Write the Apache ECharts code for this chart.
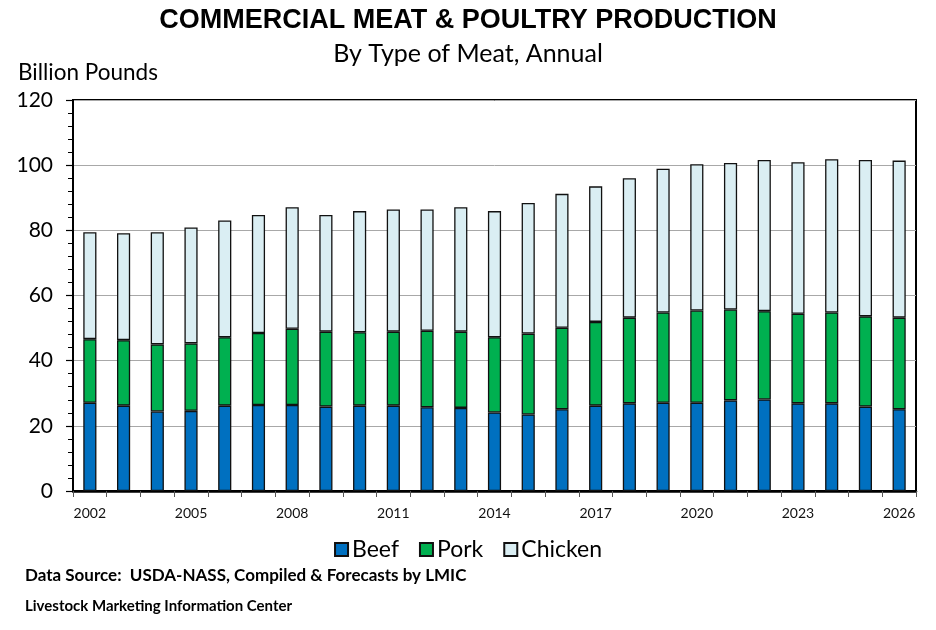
<!DOCTYPE html>
<html>
<head>
<meta charset="utf-8">
<script src="https://cdn.jsdelivr.net/npm/echarts@6/dist/echarts.min.js"></script>
<style>html,body{margin:0;padding:0;background:#fff}#c{width:936px;height:630px}</style>
</head>
<body>
<div id="c"></div>
<script>
const years = ['2002','2003','2004','2005','2006','2007','2008','2009','2010','2011','2012','2013','2014','2015','2016','2017','2018','2019','2020','2021','2022','2023','2024','2025','2026'];
const beef = [27.1,26.2,24.4,24.6,26.2,26.4,26.4,25.9,26.2,26.2,25.7,25.5,24.1,23.5,25.1,26.2,26.9,27.1,27.1,27.8,28.1,26.9,26.9,25.9,25.1];
const pork = [19.5,20.1,20.6,20.7,21.0,22.1,23.4,23.0,22.5,22.7,23.5,23.4,23.1,24.8,25.0,25.7,26.3,27.7,28.3,27.9,27.1,27.5,27.9,27.7,28.1];
const chicken = [32.8,32.8,34.4,35.6,35.8,36.2,37.3,35.8,37.2,37.5,37.2,38.2,38.7,40.1,41.1,41.6,42.8,44.1,44.9,45.0,46.4,46.5,47.0,48.0,48.2];
const yTicks = [0,20,40,60,80,100,120];

const chart = echarts.init(document.getElementById('c'), null, {renderer:'canvas'});
const barStyle = (c) => ({color:c, borderColor:'#111', borderWidth:1.3});
chart.setOption({
  animation:false,
  backgroundColor:'#fff',
  title:[
    {text:'COMMERCIAL MEAT & POULTRY PRODUCTION', left:'center', top:7, padding:0, textStyle:{fontFamily:'Liberation Sans, Arial', fontWeight:'bold', fontSize:27, color:'#000'}},
    {text:'By Type of Meat, Annual', left:'center', top:41, padding:0, textStyle:{fontFamily:'Lato, Open Sans', fontWeight:'normal', fontSize:25, color:'#000'}},
    {text:'Billion Pounds', left:18, top:61, padding:0, textStyle:{fontFamily:'Lato, Open Sans', fontWeight:'normal', fontSize:22.5, color:'#000'}},
    {text:'Data Source:  USDA-NASS, Compiled & Forecasts by LMIC', left:25, top:567, padding:0, textStyle:{fontFamily:'Lato, Open Sans', fontWeight:'bold', fontSize:17, color:'#000'}},
    {text:'Livestock Marketing Information Center', left:25, top:599, padding:0, textStyle:{fontFamily:'Lato, Open Sans', fontWeight:'bold', fontSize:15, color:'#000'}}
  ],
  legend:{
    top:533, left:'center', itemWidth:13, itemHeight:13, itemGap:20,
    icon:'rect',
    textStyle:{fontFamily:'Lato, Open Sans', fontSize:23, color:'#000', padding:[0,0,0,-1]},
    data:['Beef','Pork','Chicken']
  },
  grid:{left:73, right:20, top:100, bottom:139, show:true, borderColor:'#000', borderWidth:2, backgroundColor:'transparent'},
  xAxis:{
    type:'category', data:years, boundaryGap:true,
    axisLine:{lineStyle:{color:'#000', width:2.5}},
    axisTick:{show:true, interval:0, alignWithLabel:false, length:6, lineStyle:{color:'#555', width:1}, inside:false},
    axisLabel:{interval:2, fontFamily:'Lato, Open Sans', fontSize:14, color:'#111', margin:15},
    splitLine:{show:false}
  },
  yAxis:{
    type:'value', min:0, max:120, interval:20,
    axisLine:{show:true, lineStyle:{color:'#000', width:2}},
    axisTick:{show:true, length:7, lineStyle:{color:'#000', width:1.2}},
    minorTick:{show:true, splitNumber:5, length:5, lineStyle:{color:'#000', width:1}},
    axisLabel:{fontFamily:'Lato, Open Sans', fontSize:21, color:'#000', margin:20,
      formatter:(v)=> yTicks.indexOf(v) >= 0 ? String(v) : ''},
    splitLine:{show:true, lineStyle:{color:'#a8a8a8', width:1}}
  },
  series:[
    {name:'Beef', type:'bar', stack:'m', data:beef, barWidth:'39%', itemStyle:barStyle('#0070C0')},
    {name:'Pork', type:'bar', stack:'m', data:pork, barWidth:'39%', itemStyle:barStyle('#00B050')},
    {name:'Chicken', type:'bar', stack:'m', data:chicken, barWidth:'39%', itemStyle:barStyle('#DAEEF3')}
  ]
});
</script>
</body>
</html>
